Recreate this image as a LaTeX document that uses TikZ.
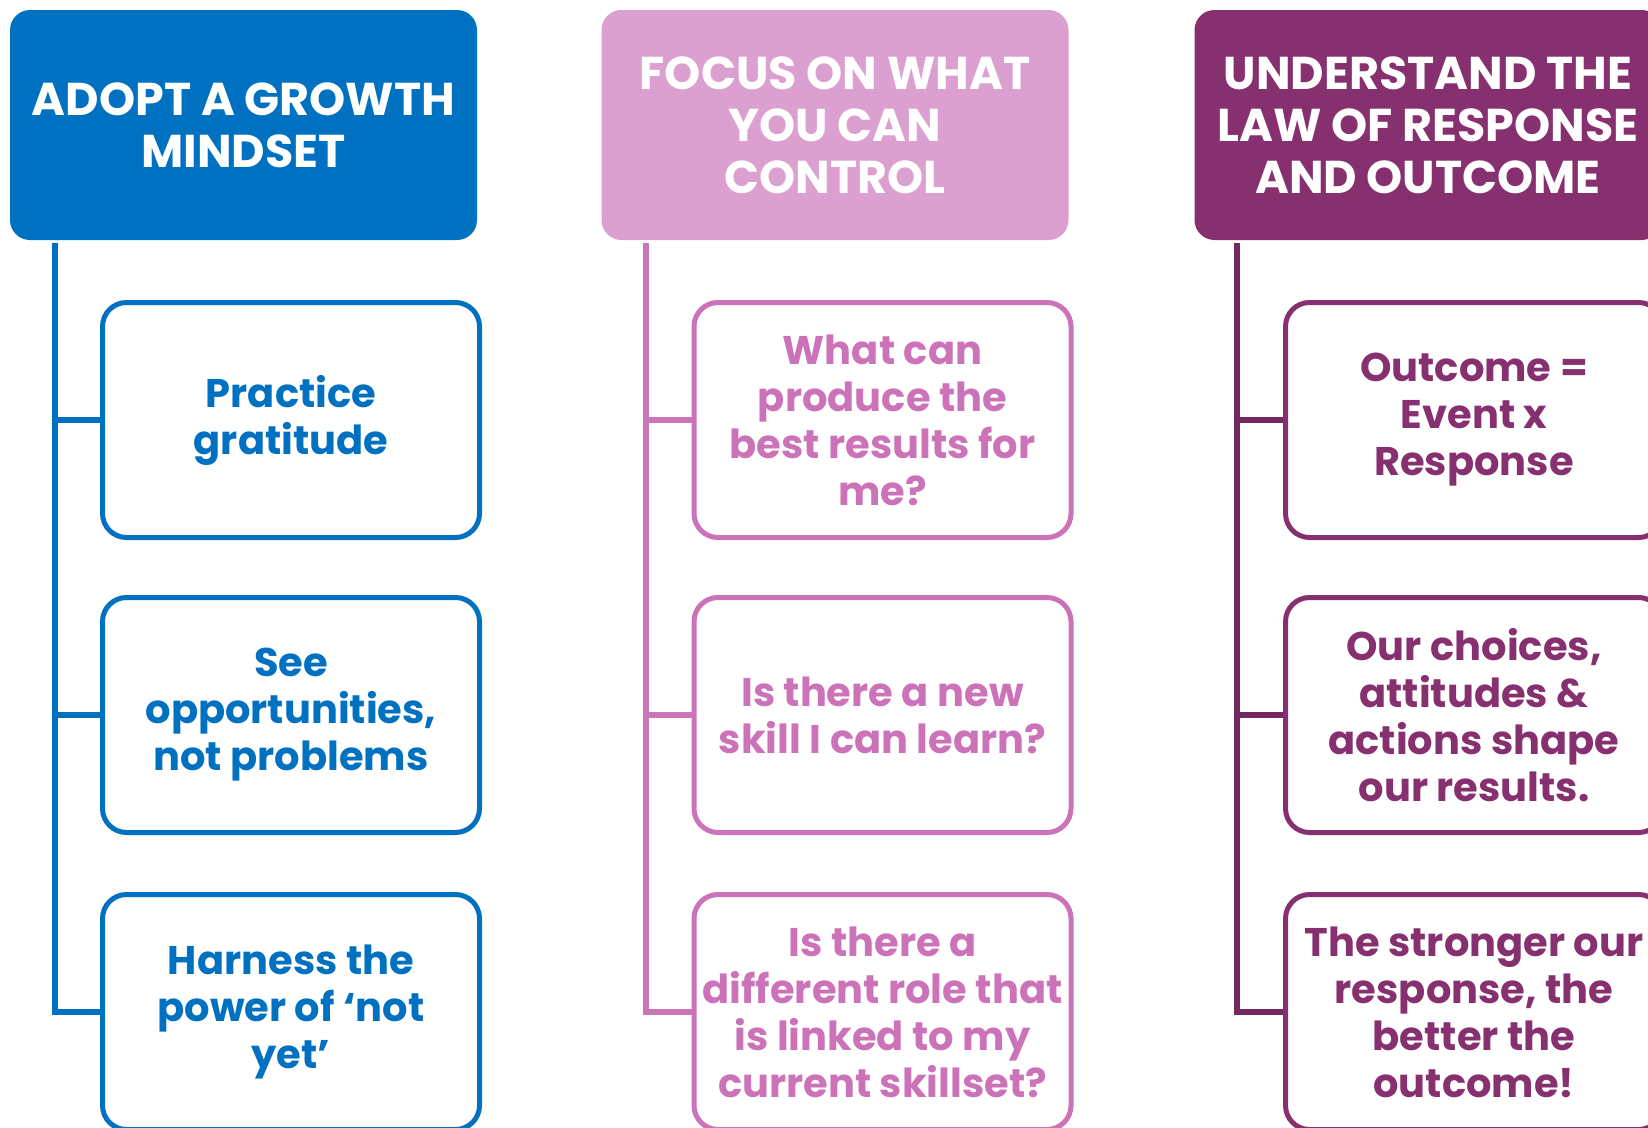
\documentclass[tikz,border=0pt]{standalone}
\usepackage{fontspec}
\setmainfont{Poppins}
\definecolor{cblue}{HTML}{0070C0}
\definecolor{cpinkfill}{HTML}{DBA0CF}
\definecolor{cpink}{HTML}{CC72B8}
\definecolor{cpinkline}{HTML}{C876B6}
\definecolor{cpurple}{HTML}{86306F}
\definecolor{cpurpleline}{HTML}{722960}
\tikzset{
  headbox/.style={rounded corners=20pt, minimum width=467pt, minimum height=230pt,
    inner sep=0pt, text=white, align=center,
    font=\bfseries\fontsize{46}{52}\selectfont},
  kidbox/.style={draw, line width=5pt, rounded corners=24pt, fill=white,
    minimum width=377pt, minimum height=235pt, inner sep=0pt, align=center,
    font=\bfseries\fontsize{40}{47}\selectfont},
  conn/.style={line width=5.5pt}
}
\begin{document}
\begin{tikzpicture}[x=1pt,y=-1pt]
\useasboundingbox (0,0) rectangle (1648,1127);
% column 1
\node[headbox, fill=cblue] (h1) at (243.5,125) {ADOPT A GROWTH\\MINDSET};
\node[kidbox, draw=cblue, text=cblue] (c11) at (291,420) {Practice\\gratitude};
\node[kidbox, draw=cblue, text=cblue] (c12) at (291,715) {See\\opportunities,\\not problems};
\node[kidbox, draw=cblue, text=cblue] (c13) at (291,1012) {Harness the\\power of ‘not\\yet’};
\coordinate (t1) at (55,243);
\draw[conn, cblue] (t1) |- (c13.west);
\draw[conn, cblue] (t1 |- c11.west) -- (c11.west);
\draw[conn, cblue] (t1 |- c12.west) -- (c12.west);
% column 2
\node[headbox, fill=cpinkfill] (h2) at (835,125) {FOCUS ON WHAT\\YOU CAN\\CONTROL};
\node[kidbox, draw=cpink, text=cpink] (c21) at (882.5,420) {What can\\produce the\\best results for\\me?};
\node[kidbox, draw=cpink, text=cpink] (c22) at (882.5,715) {Is there a new\\skill I can learn?};
\node[kidbox, draw=cpink, text=cpink] (c23) at (882.5,1012) {Is there a\\different role that\\is linked to my\\current skillset?};
\coordinate (t2) at (646,243);
\draw[conn, cpinkline] (t2) |- (c23.west);
\draw[conn, cpinkline] (t2 |- c21.west) -- (c21.west);
\draw[conn, cpinkline] (t2 |- c22.west) -- (c22.west);
% column 3
\node[headbox, fill=cpurple] (h3) at (1428,125) {UNDERSTAND THE\\LAW OF RESPONSE\\AND OUTCOME};
\node[kidbox, draw=cpurple, text=cpurple] (c31) at (1474,420) {Outcome =\\Event x\\Response};
\node[kidbox, draw=cpurple, text=cpurple] (c32) at (1474,715) {Our choices,\\attitudes \&\\actions shape\\our results.};
\node[kidbox, draw=cpurple, text=cpurple] (c33) at (1474,1012) {The stronger our\\response, the\\better the\\outcome!};
\coordinate (t3) at (1237,243);
\draw[conn, cpurpleline] (t3) |- (c33.west);
\draw[conn, cpurpleline] (t3 |- c31.west) -- (c31.west);
\draw[conn, cpurpleline] (t3 |- c32.west) -- (c32.west);
\end{tikzpicture}
\end{document}
